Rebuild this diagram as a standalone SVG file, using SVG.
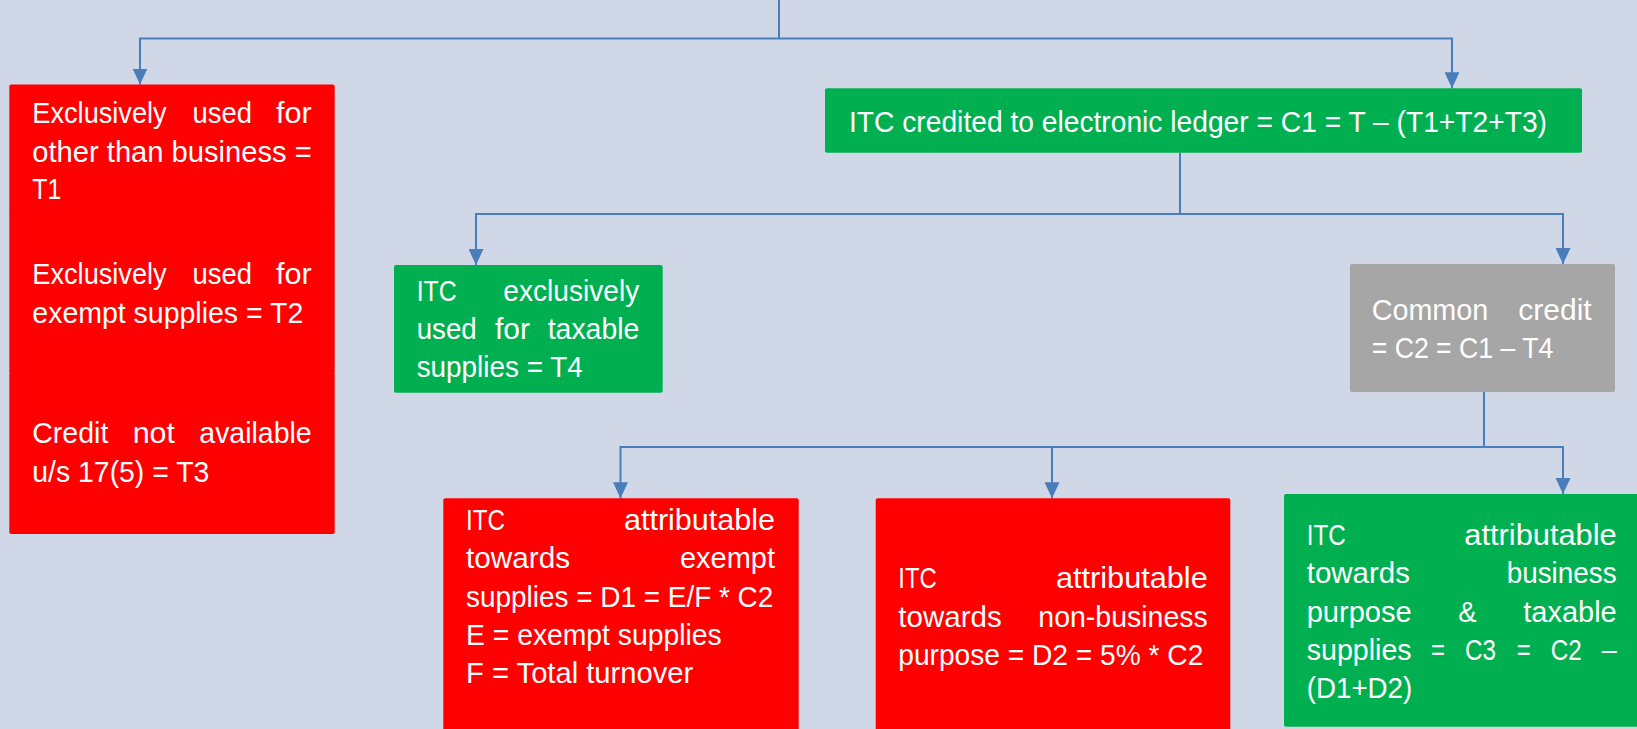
<svg xmlns="http://www.w3.org/2000/svg" width="1637" height="729" viewBox="0 0 1637 729">
<style>
.bg{fill:#D0D8E8}
.red{fill:#FF0000}
.green{fill:#00B050}
.gray{fill:#A6A6A6}
text{font-family:"Liberation Sans",Arial,sans-serif;font-size:29px;fill:#FFFFFF}
.conn{fill:none;stroke:#4A7EBB;stroke-width:2}
.arr{marker-end:url(#ah)}
</style>
<defs>
<marker id="ah" markerUnits="userSpaceOnUse" markerWidth="16" markerHeight="15" refX="16" refY="7.5" orient="auto">
<path d="M0,0 L16,7.5 L0,15 z" fill="#4A7EBB"/>
</marker>
</defs>
<rect class="bg" x="0" y="0" width="1637" height="729"/>

<g id="connectors">
<path class="conn" d="M779,0 V38.6"/>
<path class="conn arr" d="M779,38.6 H140 V84.5"/>
<path class="conn arr" d="M779,38.6 H1452 V88.3"/>
<path class="conn" d="M1180,152.7 V214"/>
<path class="conn arr" d="M1180,214 H476 V265"/>
<path class="conn arr" d="M1180,214 H1563 V264"/>
<path class="conn" d="M1484,392 V447"/>
<path class="conn arr" d="M1484,447 H620.5 V498.3"/>
<path class="conn arr" d="M1052,447 V498.3"/>
<path class="conn arr" d="M1484,447 H1563 V494"/>
</g>

<g id="node-t1">
<rect class="red" x="9.3" y="84.5" width="325.4" height="125" rx="2"/>
<text y="122.7"><tspan x="32.3" textLength="134.4" lengthAdjust="spacingAndGlyphs">Exclusively</tspan><tspan x="192.6" textLength="59.4" lengthAdjust="spacingAndGlyphs">used</tspan><tspan x="276" textLength="35.7" lengthAdjust="spacingAndGlyphs">for</tspan></text>
<text x="32.3" y="161.7" textLength="279.4" lengthAdjust="spacingAndGlyphs">other than business =</text>
<text x="32.3" y="199" textLength="29" lengthAdjust="spacingAndGlyphs">T1</text>
</g>

<g id="node-t2">
<rect class="red" x="9.3" y="208.5" width="325.4" height="164.5"/>
<text y="284"><tspan x="32.3" textLength="134.4" lengthAdjust="spacingAndGlyphs">Exclusively</tspan><tspan x="192.6" textLength="59.4" lengthAdjust="spacingAndGlyphs">used</tspan><tspan x="276" textLength="35.7" lengthAdjust="spacingAndGlyphs">for</tspan></text>
<text x="32.3" y="323" textLength="271" lengthAdjust="spacingAndGlyphs">exempt supplies = T2</text>
</g>

<g id="node-t3">
<rect class="red" x="9.3" y="372.5" width="325.4" height="161.5" rx="2"/>
<text y="443"><tspan x="32.3" textLength="76" lengthAdjust="spacingAndGlyphs">Credit</tspan><tspan x="132.7" textLength="42.3" lengthAdjust="spacingAndGlyphs">not</tspan><tspan x="199.3" textLength="112.4" lengthAdjust="spacingAndGlyphs">available</tspan></text>
<text x="32.3" y="482" textLength="177" lengthAdjust="spacingAndGlyphs">u/s 17(5) = T3</text>
</g>

<g id="node-c1">
<rect class="green" x="825" y="88.3" width="757" height="64.4" rx="2"/>
<text x="849" y="131.7" textLength="698" lengthAdjust="spacingAndGlyphs">ITC credited to electronic ledger = C1 = T – (T1+T2+T3)</text>
</g>

<g id="node-t4">
<rect class="green" x="394" y="265" width="268.7" height="127.7" rx="2"/>
<text y="301"><tspan x="416.7" textLength="40" lengthAdjust="spacingAndGlyphs">ITC</tspan><tspan x="503.3" textLength="136" lengthAdjust="spacingAndGlyphs">exclusively</tspan></text>
<text y="339.3"><tspan x="416.7" textLength="60" lengthAdjust="spacingAndGlyphs">used</tspan><tspan x="495" textLength="35" lengthAdjust="spacingAndGlyphs">for</tspan><tspan x="547.7" textLength="91.6" lengthAdjust="spacingAndGlyphs">taxable</tspan></text>
<text x="416.7" y="377.3" textLength="166" lengthAdjust="spacingAndGlyphs">supplies = T4</text>
</g>

<g id="node-c2">
<rect class="gray" x="1350" y="264" width="265" height="128" rx="2"/>
<text y="320"><tspan x="1371.7" textLength="116.6" lengthAdjust="spacingAndGlyphs">Common</tspan><tspan x="1518.3" textLength="73.4" lengthAdjust="spacingAndGlyphs">credit</tspan></text>
<text x="1371.7" y="358" textLength="181.7" lengthAdjust="spacingAndGlyphs">= C2 = C1 – T4</text>
</g>

<g id="node-d1">
<rect class="red" x="443.3" y="498.3" width="355.4" height="240" rx="2"/>
<text y="530"><tspan x="466" textLength="39" lengthAdjust="spacingAndGlyphs">ITC</tspan><tspan x="624" textLength="151" lengthAdjust="spacingAndGlyphs">attributable</tspan></text>
<text y="568.3"><tspan x="466" textLength="104" lengthAdjust="spacingAndGlyphs">towards</tspan><tspan x="680" textLength="95" lengthAdjust="spacingAndGlyphs">exempt</tspan></text>
<text x="466" y="606.7" textLength="307.3" lengthAdjust="spacingAndGlyphs">supplies = D1 = E/F * C2</text>
<text x="466" y="645" textLength="255.7" lengthAdjust="spacingAndGlyphs">E = exempt supplies</text>
<text x="466" y="683.3" textLength="227.3" lengthAdjust="spacingAndGlyphs">F = Total turnover</text>
</g>

<g id="node-d2">
<rect class="red" x="875.7" y="498.3" width="354.6" height="240" rx="2"/>
<text y="588.3"><tspan x="898.3" textLength="38.4" lengthAdjust="spacingAndGlyphs">ITC</tspan><tspan x="1056" textLength="151.7" lengthAdjust="spacingAndGlyphs">attributable</tspan></text>
<text y="626.7"><tspan x="898.3" textLength="103.4" lengthAdjust="spacingAndGlyphs">towards</tspan><tspan x="1038.3" textLength="169.4" lengthAdjust="spacingAndGlyphs">non-business</tspan></text>
<text x="898.3" y="665" textLength="305" lengthAdjust="spacingAndGlyphs">purpose = D2 = 5% * C2</text>
</g>

<g id="node-c3">
<rect class="green" x="1284" y="494" width="360" height="232.7" rx="2"/>
<text y="545"><tspan x="1306.7" textLength="39" lengthAdjust="spacingAndGlyphs">ITC</tspan><tspan x="1464.3" textLength="152.4" lengthAdjust="spacingAndGlyphs">attributable</tspan></text>
<text y="583.3"><tspan x="1306.7" textLength="103.3" lengthAdjust="spacingAndGlyphs">towards</tspan><tspan x="1506.7" textLength="110" lengthAdjust="spacingAndGlyphs">business</tspan></text>
<text y="621.7"><tspan x="1306.7" textLength="105" lengthAdjust="spacingAndGlyphs">purpose</tspan><tspan x="1458.3" textLength="18.4" lengthAdjust="spacingAndGlyphs">&amp;</tspan><tspan x="1523.3" textLength="93.4" lengthAdjust="spacingAndGlyphs">taxable</tspan></text>
<text y="660"><tspan x="1306.7" textLength="105" lengthAdjust="spacingAndGlyphs">supplies</tspan><tspan x="1431" textLength="14" lengthAdjust="spacingAndGlyphs">=</tspan><tspan x="1465" textLength="31" lengthAdjust="spacingAndGlyphs">C3</tspan><tspan x="1516.7" textLength="14" lengthAdjust="spacingAndGlyphs">=</tspan><tspan x="1550.7" textLength="31" lengthAdjust="spacingAndGlyphs">C2</tspan><tspan x="1601.7" textLength="15" lengthAdjust="spacingAndGlyphs">–</tspan></text>
<text x="1306.7" y="698.3" textLength="105.6" lengthAdjust="spacingAndGlyphs">(D1+D2)</text>
</g>
</svg>
